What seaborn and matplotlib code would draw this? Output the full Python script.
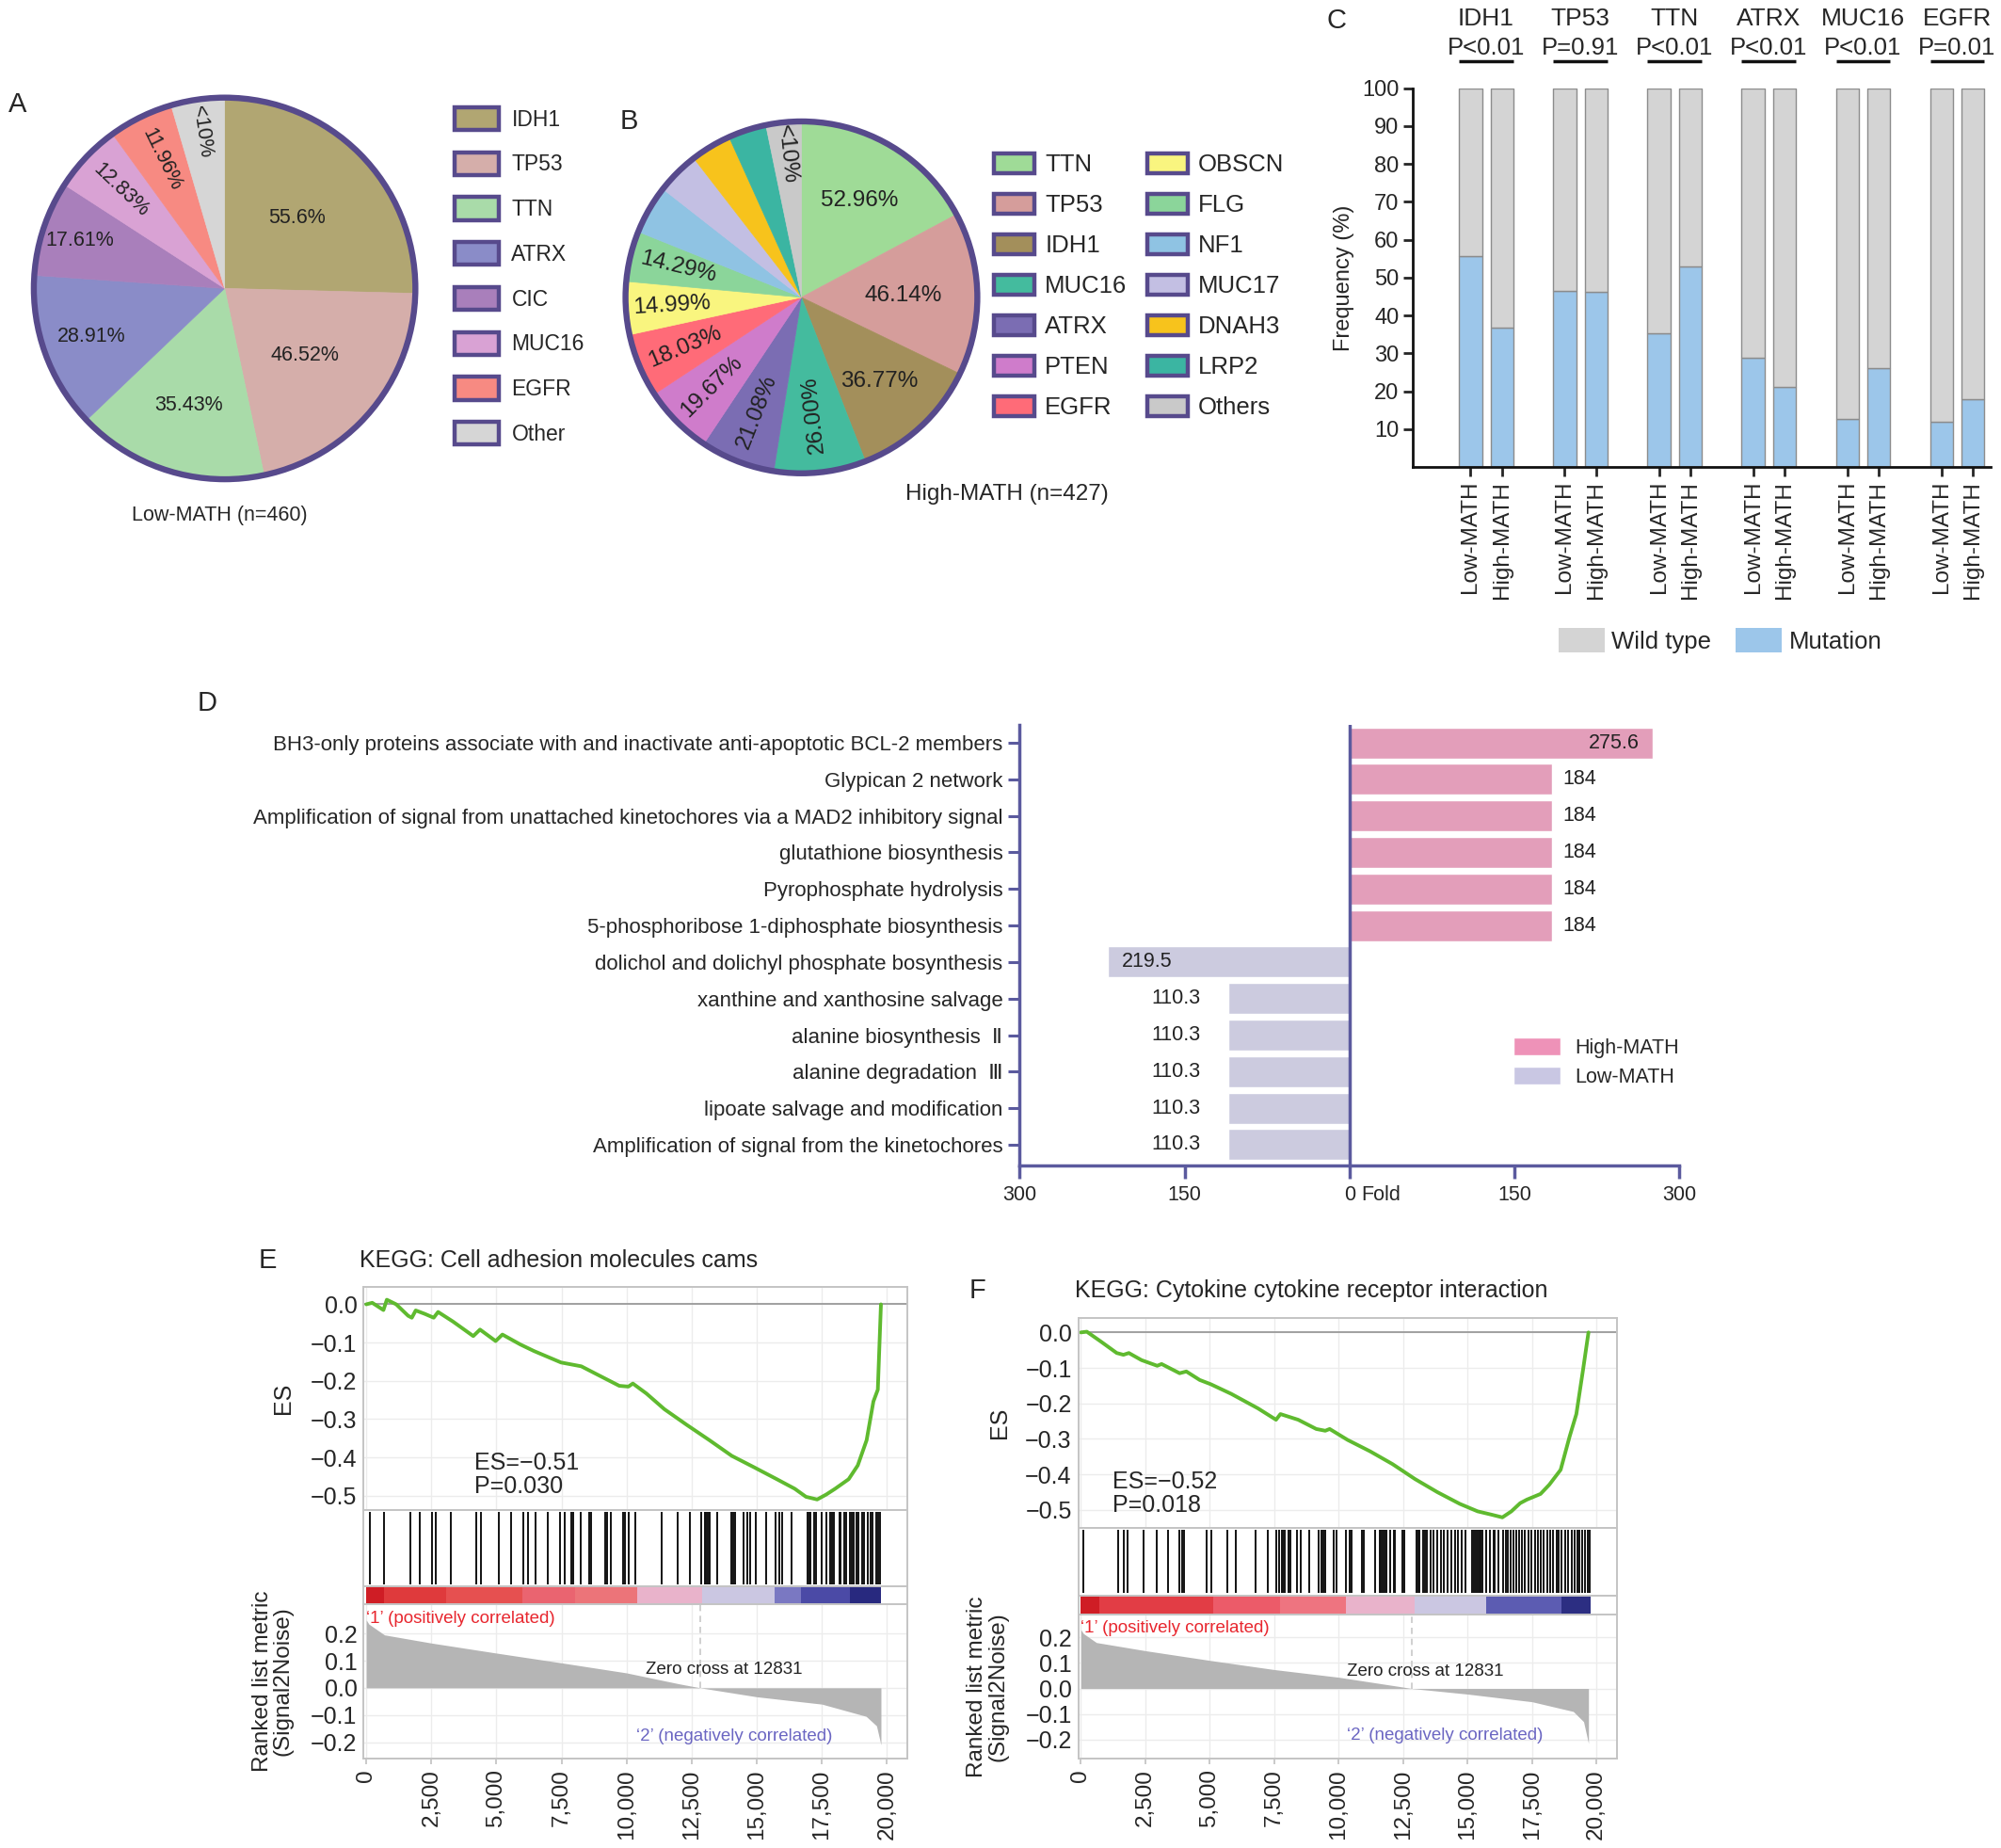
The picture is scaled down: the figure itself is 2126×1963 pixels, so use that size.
import numpy as np
import pandas as pd
import matplotlib
matplotlib.use('Agg')
import matplotlib.pyplot as plt
from matplotlib.patches import Patch, Circle
import seaborn as sns

# ---------------- data ----------------
# A: Low-MATH pie
a_genes = ['IDH1', 'TP53', 'TTN', 'ATRX', 'CIC', 'MUC16', 'EGFR', 'Other']
a_values = [55.6, 46.52, 35.43, 28.91, 17.61, 12.83, 11.96, 9.9]
a_labels = ['55.6%', '46.52%', '35.43%', '28.91%', '17.61%', '12.83%', '11.96%', '<10%']

# B: High-MATH pie
b_genes = ['TTN', 'TP53', 'IDH1', 'MUC16', 'ATRX', 'PTEN', 'EGFR',
           'OBSCN', 'FLG', 'NF1', 'MUC17', 'DNAH3', 'LRP2', 'Others']
b_values = [52.96, 46.14, 36.77, 26.00, 21.08, 19.67, 18.03,
            14.99, 14.29, 13.8, 12.2, 11.5, 10.8, 10.0]
b_labels = ['52.96%', '46.14%', '36.77%', '26.00%', '21.08%', '19.67%', '18.03%',
            '14.99%', '14.29%', '', '', '', '', '<10%']

# C: mutation frequency
c_genes = ['IDH1', 'TP53', 'TTN', 'ATRX', 'MUC16', 'EGFR']
c_pvals = ['P<0.01', 'P=0.91', 'P<0.01', 'P<0.01', 'P<0.01', 'P=0.01']
c_low_mut = [55.6, 46.52, 35.43, 28.91, 12.83, 11.96]
c_high_mut = [36.77, 46.14, 52.96, 21.08, 26.00, 18.03]

# D: pathway fold
d_terms = ['BH3-only proteins associate with and inactivate anti-apoptotic BCL-2 members',
           'Glypican 2 network',
           'Amplification of signal from unattached kinetochores via a MAD2 inhibitory signal',
           'glutathione biosynthesis',
           'Pyrophosphate hydrolysis',
           '5-phosphoribose 1-diphosphate biosynthesis',
           'dolichol and dolichyl phosphate bosynthesis',
           'xanthine and xanthosine salvage',
           'alanine biosynthesis  \u2161',
           'alanine degradation  \u2162',
           'lipoate salvage and modification',
           'Amplification of signal from the kinetochores']
d_fold = [275.6, 184, 184, 184, 184, 184, 219.5, 110.3, 110.3, 110.3, 110.3, 110.3]
d_group = ['High-MATH'] * 6 + ['Low-MATH'] * 6

# E: GSEA cell adhesion molecules
e_rank = [0, 230, 660, 790, 1150, 1610, 1750, 1900, 2250, 2590, 2760, 3330, 4110, 4370,
          4970, 5230, 5920, 6440, 7480, 8260, 8860, 9720, 10070, 10240, 10760, 11450,
          12310, 13180, 14040, 14900, 15770, 16460, 16890, 17320, 17670, 18010, 18530,
          18880, 19220, 19480, 19650, 19770]
e_es = [0.0, 0.004, -0.015, 0.012, 0.0, -0.03, -0.035, -0.016, -0.025, -0.035, -0.02,
        -0.045, -0.083, -0.066, -0.096, -0.079, -0.105, -0.122, -0.152, -0.162, -0.183,
        -0.213, -0.215, -0.207, -0.233, -0.274, -0.315, -0.355, -0.396, -0.426, -0.457,
        -0.482, -0.503, -0.51, -0.497, -0.482, -0.457, -0.421, -0.355, -0.254, -0.223, 0.0]
e_hits = [136, 680, 1700, 2040, 2517, 2653, 3265, 4218, 4422, 5075, 5551, 6027, 6231,
          6503, 6980, 7456, 7619, 7864, 7932, 8231, 8571, 8639, 9184, 9252, 9388, 9864,
          9932, 10068, 10340, 11361, 11946, 12449, 12857, 12993, 13061, 13129, 13197,
          13469, 14014, 14082, 14150, 14490, 14626, 14762, 14966, 15374, 15714, 15850,
          15986, 16327, 16939, 17007, 17075, 17211, 17279, 17483, 17687, 17823, 17891,
          17959, 18163, 18231, 18367, 18435, 18571, 18639, 18707, 18844, 18912, 19048,
          19116, 19252, 19388, 19456, 19592, 19660, 19728]
e_metric_rank = [0, 100, 700, 2500, 5000, 7500, 10000, 12000, 12831, 15000, 17500,
                 19200, 19600, 19770]
e_metric = [0.25, 0.235, 0.195, 0.165, 0.128, 0.092, 0.055, 0.015, 0.0, -0.033, -0.06,
            -0.105, -0.14, -0.21]
e_cb_edges = [0, 680, 3060, 5990, 8030, 10400, 12900, 15700, 16700, 18570, 19770]
e_cb_colors = ['#cf1d25', '#df3a3c', '#e65050', '#ea6470', '#ec7479', '#e9b3cb',
               '#cbc7e2', '#7a78c2', '#4b4aa6', '#28297f']

# F: GSEA cytokine receptor interaction
f_rank = [0, 230, 780, 1390, 1650, 1860, 2350, 2960, 3130, 3830, 4090, 4610, 5040, 5830,
          6870, 7570, 7740, 8430, 9130, 9480, 9650, 10350, 11220, 12090, 12960, 13830,
          14700, 15390, 15910, 16350, 16700, 17040, 17300, 17830, 18170, 18610, 18960,
          19220, 19480, 19690]
f_es = [0.0, 0.002, -0.026, -0.058, -0.063, -0.058, -0.078, -0.094, -0.089, -0.115,
        -0.11, -0.134, -0.146, -0.173, -0.214, -0.246, -0.23, -0.246, -0.272, -0.277,
        -0.272, -0.303, -0.335, -0.371, -0.413, -0.45, -0.483, -0.504, -0.513, -0.521,
        -0.504, -0.481, -0.471, -0.455, -0.429, -0.387, -0.293, -0.23, -0.105, 0.0]
f_hits = [81, 1439, 1670, 1806, 2417, 2960, 3367, 3802, 3910, 4019, 4861, 5065, 5675,
          6015, 6762, 7237, 7576, 7685, 7780, 7848, 7916, 8052, 8120, 8391, 8527, 8866,
          9206, 9341, 9409, 9477, 9817, 9912, 10292, 10428, 10496, 10903, 10971, 11405,
          11582, 11650, 11718, 11785, 11853, 11989, 12125, 12193, 12464, 12532, 13007,
          13075, 13143, 13279, 13347, 13415, 13551, 13686, 13822, 13958, 14094, 14230,
          14365, 14501, 14637, 14773, 14908, 15180, 15248, 15316, 15384, 15452, 15520,
          15587, 15723, 15859, 15995, 16062, 16198, 16375, 16470, 16565, 16673, 16782,
          16877, 17013, 17108, 17217, 17352, 17488, 17624, 17733, 17827, 17963, 18099,
          18194, 18330, 18466, 18547, 18642, 18778, 18914, 19050, 19145, 19253, 19349,
          19457, 19552, 19661, 19742]
f_metric_rank = [0, 100, 600, 2500, 5000, 7500, 10000, 12400, 12831, 15000, 17500,
                 19100, 19500, 19690]
f_metric = [0.23, 0.215, 0.18, 0.148, 0.11, 0.074, 0.044, 0.007, 0.0, -0.022, -0.052,
            -0.09, -0.13, -0.215]
f_cb_edges = [0, 720, 5130, 7710, 10290, 12940, 15720, 18640, 19770]
f_cb_colors = ['#cf1d25', '#e23d45', '#ec5b69', '#ee7480', '#e9b3cb', '#cbc7e2',
               '#5c5cb2', '#2c2e82']

# ---------------- styles ----------------
a_colors = ['#b1a672', '#d5aeaa', '#a9dba9', '#8a8cc8', '#a97fbb', '#d9a2d4', '#f78a82', '#d6d6d6']
b_colors = ['#9fdb97', '#d59d9b', '#a38f5b', '#44bb9e', '#7b6db3', '#cf7ccb', '#ff6b78',
            '#f9f57f', '#8bd59a', '#8fc3e3', '#c3bfe3', '#f7c31c', '#3bb5a2', '#c9c9c9']
a_radii = [0.53, 0.55, 0.64, 0.74, 0.8, 0.75, 0.75, 0.83]
a_radial = [False, False, False, False, False, True, True, True]
b_radii = [0.64, 0.58, 0.65, 0.67, 0.7, 0.72, 0.72, 0.74, 0.72, 0, 0, 0, 0, 0.82]
b_radial = [False, False, False, True, True, True, True, True, True, False, False, False, False, True]
OUTLINE = '#574a8c'
WT_COL, MUT_COL, BAR_EC = '#d4d4d4', '#9cc6ea', '#8c8c8c'
D_PAL = {'High-MATH': '#ee92b8', 'Low-MATH': '#c9c7e3'}
D_AXIS = '#5b5a9e'
ES_GREEN = '#5fba2f'

sns.set_theme(style='ticks')
plt.rcParams['font.family'] = ['Liberation Sans', 'DejaVu Sans']
plt.rcParams['axes.unicode_minus'] = True

fig = plt.figure(figsize=(21.26, 19.63), dpi=100)

# layout measured on a 1568 px wide copy of the target
W, H = 1568.0, 1448.0


def box(x0, y0, x1, y1):
    return [x0 / W, 1 - y1 / H, (x1 - x0) / W, (y1 - y0) / H]


def ftext(x, y, s, **kw):
    fig.text(x / W, 1 - y / H, s, **kw)


def draw_pie(rect, values, colors, labels, radii, radial, fs):
    ax = fig.add_axes(rect)
    wedges, _ = ax.pie(values, colors=colors, startangle=90, counterclock=False)
    for w in wedges:
        w.set_edgecolor(w.get_facecolor())
        w.set_linewidth(0.5)
    ax.add_patch(Circle((0, 0), 1, fill=False, lw=4.6, ec=OUTLINE))
    for w, lab, r, rad in zip(wedges, labels, radii, radial):
        if not lab:
            continue
        mid = (w.theta1 + w.theta2) / 2
        rot = ((mid - 180) + 180) % 360 - 180 if rad else 0
        ax.text(r * np.cos(np.deg2rad(mid)), r * np.sin(np.deg2rad(mid)), lab,
                ha='center', va='center', rotation=rot, rotation_mode='anchor',
                fontsize=fs, color='#222222')
    ax.set_xlim(-1.03, 1.03)
    ax.set_ylim(-1.03, 1.03)
    return ax


# ---------------- A ----------------
draw_pie(box(22, 72, 330, 380), a_values, a_colors, a_labels, a_radii, a_radial, 15.5)
ftext(172, 404, 'Low-MATH (n=460)', ha='center', va='center', fontsize=15.5)
fig.legend(handles=[Patch(fc=c, ec=OUTLINE, lw=3.2) for c in a_colors], labels=a_genes,
           loc='upper left', bbox_to_anchor=(356 / W, 1 - 84 / H), frameon=False,
           fontsize=16.5, handlelength=2.05, handleheight=1.25, labelspacing=1.0,
           handletextpad=0.6, borderpad=0, borderaxespad=0)

# ---------------- B ----------------
draw_pie(box(486, 91, 770, 375), b_values, b_colors, b_labels, b_radii, b_radial, 17.5)
ftext(789, 387, 'High-MATH (n=427)', ha='center', va='center', fontsize=17.5)
fig.legend(handles=[Patch(fc=c, ec=OUTLINE, lw=3.2) for c in b_colors], labels=b_genes,
           loc='upper left', bbox_to_anchor=(779 / W, 1 - 120 / H), frameon=False, ncol=2,
           fontsize=18.5, handlelength=1.65, handleheight=0.9, labelspacing=0.72,
           handletextpad=0.45, columnspacing=0.85, borderpad=0, borderaxespad=0)

# ---------------- C ----------------
axc = fig.add_axes(box(1107, 69, 1560, 366))
pos = np.arange(len(c_genes)) * 3
bw = 0.73
for off, mut in [(0, c_low_mut), (1, c_high_mut)]:
    mut = np.array(mut)
    axc.bar(pos + off, mut, width=bw, color=MUT_COL, ec=BAR_EC, lw=1)
    axc.bar(pos + off, 100 - mut, bottom=mut, width=bw, color=WT_COL, ec=BAR_EC, lw=1)
axc.set_xlim(-1.84, 16.57)
axc.set_ylim(0, 100)
axc.set_yticks(range(10, 101, 10))
xt = np.sort(np.concatenate([pos, pos + 1]))
axc.set_xticks(xt)
axc.set_xticklabels(['Low-MATH', 'High-MATH'] * len(c_genes), rotation=90, fontsize=17.5)
axc.tick_params(axis='y', labelsize=17, length=7, width=2)
axc.tick_params(axis='x', length=7, width=2)
axc.set_ylabel('Frequency (%)', fontsize=17, labelpad=6)
for s in ['top', 'right']:
    axc.spines[s].set_visible(False)
for s in ['left', 'bottom']:
    axc.spines[s].set_linewidth(2)
    axc.spines[s].set_color('#111111')
for p, g, pv in zip(pos, c_genes, c_pvals):
    axc.text(p + 0.5, 118.2, g, ha='center', va='center', fontsize=19, clip_on=False)
    axc.text(p + 0.5, 110.6, pv, ha='center', va='center', fontsize=18.5, clip_on=False)
    axc.plot([p - bw / 2, p + 1 + bw / 2], [107.0, 107.0], color='#111111', lw=2.5,
             clip_on=False, solid_capstyle='butt')
fig.legend(handles=[Patch(fc=WT_COL, ec='none'), Patch(fc=MUT_COL, ec='none')],
           labels=['Wild type', 'Mutation'], loc='center', ncol=2,
           bbox_to_anchor=(1348 / W, 1 - 502 / H), frameon=False, fontsize=18.5,
           handlelength=1.9, handleheight=1.2, handletextpad=0.3, columnspacing=1.0)

# ---------------- D ----------------
d_df = pd.DataFrame({'term': d_terms, 'fold': d_fold, 'group': d_group})
d_df['signed'] = np.where(d_df['group'] == 'High-MATH', d_df['fold'], -d_df['fold'])
axd = fig.add_axes(box(799, 568, 1316, 913))
sns.barplot(data=d_df, x='signed', y='term', hue='group', palette=D_PAL, dodge=False,
            width=0.85, legend=False, errorbar=None, orient='h', ax=axd)
axd.set_xlim(-300, 300)
axd.set_ylim(11.56, -0.49)
axd.set_xticks([-300, -150, 0, 150, 300])
axd.set_xticklabels(['300', '150', '0', '150', '300'])
axd.set_xlabel('')
axd.set_ylabel('')
axd.tick_params(axis='y', labelsize=16, length=9, width=2.2, color=D_AXIS, pad=4)
axd.tick_params(axis='x', labelsize=15.5, length=10, width=2.5, color=D_AXIS, pad=5)
for s in ['top', 'right']:
    axd.spines[s].set_visible(False)
for s in ['left', 'bottom']:
    axd.spines[s].set_linewidth(2.5)
    axd.spines[s].set_color(D_AXIS)
axd.axvline(0, color=D_AXIS, lw=2.5)
axd.text(11, -0.068, 'Fold', transform=axd.get_xaxis_transform(), ha='left', va='center',
         fontsize=15.5)
for i, (v, g) in enumerate(zip(d_fold, d_group)):
    txt = f'{v:g}'
    if g == 'High-MATH':
        if v > 250:
            axd.text(v - 12, i, txt, ha='right', va='center', fontsize=15.5, color='#222222')
        else:
            axd.text(v + 10, i, txt, ha='left', va='center', fontsize=15.5, color='#222222')
    else:
        if v > 200:
            axd.text(-v + 12, i, txt, ha='left', va='center', fontsize=15.5, color='#222222')
        else:
            axd.text(-v - 25, i, txt, ha='right', va='center', fontsize=15.5, color='#222222')
fig.legend(handles=[Patch(fc=D_PAL['High-MATH']), Patch(fc=D_PAL['Low-MATH'])],
           labels=['High-MATH', 'Low-MATH'], loc='upper left',
           bbox_to_anchor=(1186 / W, 1 - 813 / H), frameon=False, fontsize=15.5,
           handlelength=2.3, handleheight=1.0, labelspacing=0.42, handletextpad=0.75,
           borderpad=0, borderaxespad=0)


# ---------------- E / F ----------------
def gsea(x0, x1, ys, xlim, es_lim, met_lim, ranks, es, hits, cb_edges, cb_colors,
         m_rank, m_val, stat, stat_xy, txt_pos, lab_x):
    y_es, y_hit, y_cb, y_met, y_bot = ys
    frame = '#c4c4c4'
    ax_es = fig.add_axes(box(x0, y_es, x1, y_hit))
    ax_hit = fig.add_axes(box(x0, y_hit, x1, y_cb))
    ax_cb = fig.add_axes(box(x0, y_cb, x1, y_met))
    ax_m = fig.add_axes(box(x0, y_met, x1, y_bot))
    for ax in [ax_es, ax_hit, ax_cb, ax_m]:
        ax.set_xlim(*xlim)
        for s in ax.spines.values():
            s.set_color(frame)
            s.set_linewidth(1.4)
        ax.set_xticks(range(0, 20001, 2500))
        ax.tick_params(axis='x', labelbottom=False, length=0)
    ax_es.grid(True, color='#ececec', lw=1)
    ax_es.set_axisbelow(True)
    ax_es.axhline(0, color='#9a9a9a', lw=1.3)
    sns.lineplot(x=ranks, y=es, ax=ax_es, color=ES_GREEN, linewidth=2.8)
    ax_es.set_ylim(*es_lim)
    es_ticks = [0.0, -0.1, -0.2, -0.3, -0.4, -0.5]
    ax_es.set_yticks(es_ticks)
    ax_es.set_yticklabels([f'{t:.1f}'.replace('-', '\u2212') for t in es_ticks])
    ax_es.tick_params(axis='y', length=0, labelsize=18, pad=5)
    ax_es.set_ylabel('ES', fontsize=18)
    ax_es.yaxis.set_label_coords(-lab_x[0], 0.5)
    ax_es.text(stat_xy[0], stat_xy[1], stat, ha='left', va='top', fontsize=18,
               linespacing=1.05)

    ax_hit.vlines(hits, 0.03, 0.97, color='#111111', lw=1.4)
    ax_hit.set_ylim(0, 1)
    ax_hit.set_yticks([])

    lefts = cb_edges[:-1]
    widths = np.diff(cb_edges)
    ax_cb.bar(lefts, [1] * len(lefts), width=widths, align='edge', color=cb_colors, lw=0)
    ax_cb.set_ylim(0, 1)
    ax_cb.set_yticks([])

    ax_m.grid(True, color='#ececec', lw=1)
    ax_m.set_axisbelow(True)
    ax_m.fill_between(m_rank, m_val, 0, color='#b5b5b5', lw=0)
    ax_m.set_ylim(*met_lim)
    zfrac = (0 - met_lim[0]) / (met_lim[1] - met_lim[0])
    ax_m.axvline(12831, ymin=zfrac, ymax=1, color='#c8c8c8', lw=1.2, ls=(0, (4, 3)))
    m_ticks = [0.2, 0.1, 0.0, -0.1, -0.2]
    ax_m.set_yticks(m_ticks)
    ax_m.set_yticklabels([f'{t:.1f}'.replace('-', '\u2212') for t in m_ticks])
    ax_m.tick_params(axis='y', length=0, labelsize=18, pad=5)
    ax_m.tick_params(axis='x', labelbottom=True, length=4, color=frame, labelsize=17.5,
                     labelrotation=90, pad=4)
    ax_m.set_xticklabels([f'{t:,}' for t in range(0, 20001, 2500)])
    ax_m.set_ylabel('Ranked list metric\n(Signal2Noise)', fontsize=17.5, linespacing=1.0)
    ax_m.yaxis.set_label_coords(-lab_x[1], 0.5)
    (p1x, p1y), (zx, zy), (p2x, p2y) = txt_pos
    ax_m.text(p1x, p1y, '\u20181\u2019 (positively correlated)', color='#e8262e',
              fontsize=13.5, ha='left', va='center')
    ax_m.text(zx, zy, 'Zero cross at 12831', color='#222222', fontsize=13.5,
              ha='center', va='center')
    ax_m.text(p2x, p2y, '\u20182\u2019 (negatively correlated)', color='#6b66c2',
              fontsize=13.5, ha='center', va='center')


gsea(285, 711, (1008, 1183, 1243, 1257, 1378), (-98, 20784), (-0.537, 0.0467),
     (-0.261, 0.308), e_rank, e_es, e_hits, e_cb_edges, e_cb_colors,
     e_metric_rank, e_metric, 'ES=\u22120.51\nP=0.030', (4170, -0.385),
     [(0, 0.256), (13730, 0.068), (14120, -0.18)], (0.127, 0.129))
ftext(210, 988, 'E', fontsize=21, ha='center', va='center')
ftext(282, 988, 'KEGG: Cell adhesion molecules cams', fontsize=18, ha='left', va='center')

gsea(845, 1267, (1033, 1197, 1250, 1265, 1378), (-99, 20792), (-0.550, 0.0396),
     (-0.275, 0.29), f_rank, f_es, f_hits, f_cb_edges, f_cb_colors,
     f_metric_rank, f_metric, 'ES=\u22120.52\nP=0.018', (1240, -0.39),
     [(0, 0.235), (13370, 0.065), (14110, -0.185)], (0.126, 0.130))
ftext(766, 1011, 'F', fontsize=21, ha='center', va='center')
ftext(842, 1011, 'KEGG: Cytokine cytokine receptor interaction', fontsize=18, ha='left',
      va='center')

# panel letters
ftext(14, 82, 'A', fontsize=21, ha='center', va='center')
ftext(493, 95, 'B', fontsize=21, ha='center', va='center')
ftext(1047, 16, 'C', fontsize=21, ha='center', va='center')
ftext(162, 551, 'D', fontsize=21, ha='center', va='center')

fig.savefig('out.png', dpi=100)
